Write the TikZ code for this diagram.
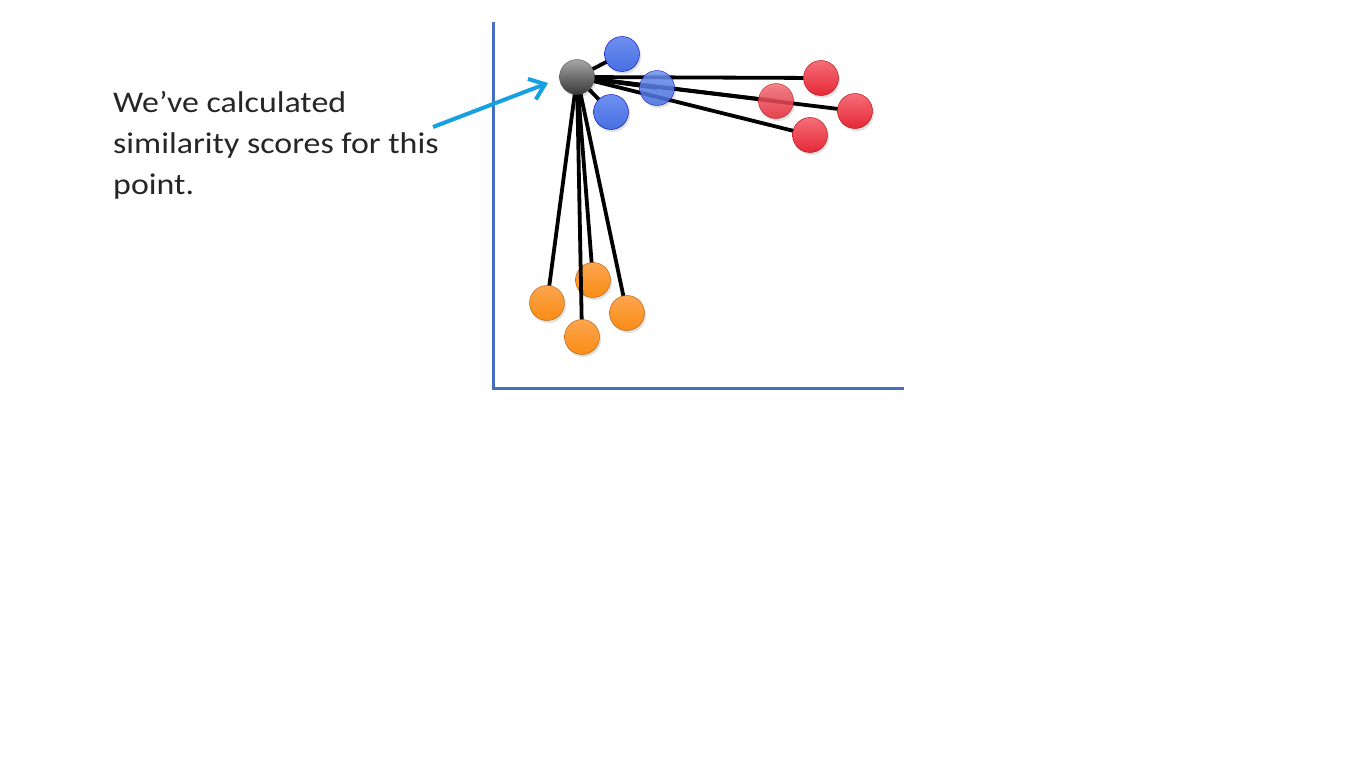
\documentclass[tikz,border=0pt]{standalone}
\usepackage{fontspec}
\setmainfont{Carlito}
\usetikzlibrary{arrows.meta}
\definecolor{axisblue}{RGB}{72,110,190}
\definecolor{pointerblue}{RGB}{20,160,225}
\definecolor{txtgray}{RGB}{38,38,38}
\tikzset{
  pt/.style={circle, minimum size=35pt, inner sep=0pt, draw=#1!70!black, line width=0.4pt},
  grayPt/.style={pt=gray, top color=gray!70, bottom color=black!78},
  bluePt/.style={pt=blue, top color={rgb,255:red,110;green,145;blue,240}, bottom color={rgb,255:red,70;green,110;blue,225}},
  redPt/.style={pt=red, top color={rgb,255:red,245;green,110;blue,120}, bottom color={rgb,255:red,230;green,40;blue,55}},
  orangePt/.style={pt=orange, top color={rgb,255:red,252;green,165;blue,80}, bottom color={rgb,255:red,250;green,140;blue,20}},
  link/.style={line width=3.8pt, black},
  axis/.style={line width=3pt, axisblue},
  shadowPt/.style={circle, minimum size=35pt, inner sep=0pt, fill=black, opacity=0.12}
}
\begin{document}
\begin{tikzpicture}[x=1pt,y=-1pt]
\useasboundingbox[fill=white] (0,0) rectangle (1366,768);

% axes
\coordinate (top) at (493,22);
\coordinate (origin) at (493,388);
\coordinate (right) at (904,388);
\draw[axis] (top) -- (origin) -- (right);

% point coordinates
\coordinate (q) at (577,77);
\coordinate (b1) at (622,54);
\coordinate (b2) at (657,88);
\coordinate (b3) at (611,112);
\coordinate (r1) at (821,78);
\coordinate (r2) at (776,101);
\coordinate (r3) at (855,111);
\coordinate (r4) at (810,135);
\coordinate (o1) at (547,303);
\coordinate (o2) at (593,280);
\coordinate (o3) at (627,313);
\coordinate (o4) at (582,337);

% links from the query point
\foreach \p in {b1,b2,b3,r1,r2,r3,r4,o1,o2,o3}
  \draw[link] (q) -- (\p);

% soft shadows
\foreach \p in {b1,b2,b3,r1,r2,r3,r4,o1,o2,o3,o4,q}
  \node[shadowPt] at ([shift={(1.5,2.5)}]\p) {};

% points
\node[bluePt] (B1) at (b1) {};
\node[bluePt, opacity=0.85] (B2) at (b2) {};
\node[bluePt] (B3) at (b3) {};
\node[redPt] (R1) at (r1) {};
\node[redPt, opacity=0.85] (R2) at (r2) {};
\node[redPt] (R3) at (r3) {};
\node[redPt] (R4) at (r4) {};
\node[orangePt] (O1) at (o1) {};
\node[orangePt] (O2) at (o2) {};
\node[orangePt] (O3) at (o3) {};
\node[orangePt] (O4) at (o4) {};
\node[grayPt] (Q) at (q) {};

% the longest link passes in front of its neighbour
\draw[link] (Q) -- (O4);

% caption and pointer
\node[anchor=north west, align=left, inner sep=0pt, text=txtgray, xscale=1.13,
      font=\fontsize{30pt}{41pt}\selectfont] (cap) at (113,91)
  {We’ve calculated\\similarity scores for this\\point.};
\coordinate (tail) at (433,127);
\draw[pointerblue, line width=4pt, -{Straight Barb[length=14pt,width=22pt,line width=4pt]}]
  (tail) -- ([shift={(-29,6)}]Q.center);
\end{tikzpicture}
\end{document}
